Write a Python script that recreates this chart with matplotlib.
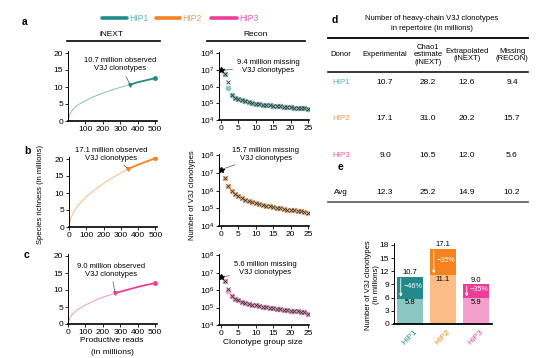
import matplotlib.pyplot as plt
from matplotlib.lines import Line2D
import numpy as np

plt.rcParams['font.family'] = ['Liberation Sans', 'DejaVu Sans']
plt.rcParams['mathtext.fontset'] = 'custom'
plt.rcParams['mathtext.rm'] = 'Liberation Sans'
plt.rcParams['mathtext.it'] = 'Liberation Sans:italic'
plt.rcParams['mathtext.bf'] = 'Liberation Sans:bold'
plt.rcParams['axes.unicode_minus'] = True

# ---- data ----
donors = ['HIP1', 'HIP2', 'HIP3']

# iNEXT rarefaction (up to observed) and extrapolation (to 500 M reads)
rare_x = [[0, 10, 25, 50, 100, 150, 200, 250, 300, 356],
          [0, 10, 25, 50, 100, 150, 200, 250, 300, 343],
          [0, 10, 25, 50, 100, 150, 200, 270]]
rare_y = [[0, 2.0, 3.2, 4.5, 6.0, 7.2, 8.2, 9.1, 9.9, 10.7],
          [0, 2.5, 4.2, 6.2, 8.9, 11.0, 12.8, 14.5, 15.9, 17.1],
          [0, 1.8, 2.9, 4.1, 5.6, 6.8, 7.9, 9.0]]
extra_x = [[356, 400, 450, 500],
           [343, 400, 450, 500],
           [270, 300, 350, 400, 450, 500]]
extra_y = [[10.7, 11.4, 12.0, 12.6],
           [17.1, 18.3, 19.3, 20.2],
           [9.0, 9.5, 10.2, 10.9, 11.5, 12.0]]

# Recon: clonotype group size 1..25, observed (x) and fitted (circles)
group_size = list(range(1, 26))
recon_obs = [
    [5.5e6, 1.8e6, 3.2e5, 2.2e5, 1.75e5, 1.5e5, 1.3e5, 1.15e5, 1.05e5, 9.6e4,
     9.0e4, 8.4e4, 7.9e4, 7.5e4, 7.1e4, 6.8e4, 6.5e4, 6.2e4, 6.0e4, 5.8e4,
     5.6e4, 5.4e4, 5.2e4, 5.0e4, 4.3e4],
    [5.0e6, 1.8e6, 1.0e6, 6.5e5, 4.8e5, 3.8e5, 3.1e5, 2.6e5, 2.25e5, 2.0e5,
     1.8e5, 1.6e5, 1.45e5, 1.3e5, 1.2e5, 1.1e5, 1.0e5, 9.3e4, 8.6e4, 8.0e4,
     7.6e4, 7.2e4, 6.9e4, 6.6e4, 5.5e4],
    [3.2e6, 1.1e6, 4.5e5, 3.2e5, 2.6e5, 2.2e5, 1.9e5, 1.7e5, 1.5e5, 1.35e5,
     1.25e5, 1.15e5, 1.05e5, 9.8e4, 9.2e4, 8.6e4, 8.1e4, 7.6e4, 7.2e4, 6.8e4,
     6.5e4, 6.2e4, 5.9e4, 5.6e4, 4.5e4]]
recon_fit = [
    [5.5e6, 8.0e5, 3.2e5, 2.2e5, 1.75e5, 1.5e5, 1.3e5, 1.15e5, 1.05e5, 9.6e4,
     9.0e4, 8.4e4, 7.9e4, 7.5e4, 7.1e4, 6.8e4, 6.5e4, 6.2e4, 6.0e4, 5.8e4,
     5.6e4, 5.4e4, 5.2e4, 5.0e4, 4.3e4],
    [5.0e6, 1.8e6, 1.0e6, 6.5e5, 4.8e5, 3.8e5, 3.1e5, 2.6e5, 2.25e5, 2.0e5,
     1.8e5, 1.6e5, 1.45e5, 1.3e5, 1.2e5, 1.1e5, 1.0e5, 9.3e4, 8.6e4, 8.0e4,
     7.6e4, 7.2e4, 6.9e4, 6.6e4, 5.5e4],
    [3.2e6, 9.0e5, 4.5e5, 3.2e5, 2.6e5, 2.2e5, 1.9e5, 1.7e5, 1.5e5, 1.35e5,
     1.25e5, 1.15e5, 1.05e5, 9.8e4, 9.2e4, 8.6e4, 8.1e4, 7.6e4, 7.2e4, 6.8e4,
     6.5e4, 6.2e4, 5.9e4, 5.6e4, 4.5e4]]

# table d (millions)
experimental = [10.7, 17.1, 9.0]
chao1 = [28.2, 31.0, 16.5]
extrapolated = [12.6, 20.2, 12.0]
missing = [9.4, 15.7, 5.6]
averages = [12.3, 25.2, 14.9, 10.2]

# bars e
after_recon = [5.8, 11.1, 5.9]
pct_labels = ['\u221246%', '\u221235%', '\u221235%']

dark = ['#24898a', '#f5821f', '#ea3e97']
light = ['#8ac6c2', '#fbbd85', '#f5a0cc']
txtcol = ['#5fb3b3', '#f39a4d', '#ef5aab']

W, H = 554, 358
fig = plt.figure(figsize=(W / 100, H / 100), dpi=100)
FS = 5.5


def px_axes(x0, y0, x1, y1):
    return fig.add_axes([x0 / W, 1 - y1 / H, (x1 - x0) / W, (y1 - y0) / H])


def T(x, y, s, **kw):
    kw.setdefault('ha', 'center')
    kw.setdefault('va', 'center')
    kw.setdefault('fontsize', FS)
    return fig.text(x / W, 1 - y / H, s, **kw)


def hline(x0, x1, y, **kw):
    fig.add_artist(Line2D([x0 / W, x1 / W], [1 - y / H, 1 - y / H],
                          transform=fig.transFigure, **kw))


def style(ax):
    for s in ['top', 'right']:
        ax.spines[s].set_visible(False)
    ax.spines['left'].set_linewidth(0.7)
    ax.spines['bottom'].set_linewidth(1.2)
    ax.tick_params(labelsize=6, length=2, width=0.6, pad=1.5)


# legend
leg_x = [(102, 127), (156, 180), (211, 237)]
for i in range(3):
    hline(leg_x[i][0], leg_x[i][1], 18, color=dark[i], lw=2.6, solid_capstyle='round')
    T(leg_x[i][1] + 2, 18.5, donors[i], ha='left', color=txtcol[i], fontsize=6.2)

# panel letters
T(25, 22, 'a', fontweight='bold', fontsize=7.5)
T(27, 151, 'b', fontweight='bold', fontsize=7.5)
T(27, 255, 'c', fontweight='bold', fontsize=7.5)
T(335, 20, 'd', fontweight='bold', fontsize=7.5)
T(340, 167, 'e', fontweight='bold', fontsize=7.5)

# column headers
T(112, 34, 'iNEXT', fontsize=6)
hline(67, 160, 41, color='k', lw=1.2)
T(256, 34, 'Recon', fontsize=6)
hline(207, 305, 41, color='k', lw=1.2)

inext_boxes = [(68, 51.3, 157, 121), (69, 157.3, 157, 227), (68, 254.3, 157, 324)]
recon_boxes = [(219, 52, 309, 120), (219, 154, 309, 226), (219, 254, 309, 325)]
inext_txt = [(120, 65), (111, 154), (111, 270)]
recon_txt = [(268, 66), (266, 154), (265, 269)]

for i in range(3):
    ax = px_axes(*inext_boxes[i])
    style(ax)
    ax.plot(rare_x[i], rare_y[i], color=dark[i], lw=0.7, alpha=0.55)
    ax.plot(extra_x[i], extra_y[i], color=dark[i], lw=1.3)
    ax.plot(extra_x[i][-1], extra_y[i][-1], 'o', color=dark[i], ms=2.5)
    ax.plot(rare_x[i][-1], rare_y[i][-1], 'v', color=dark[i], ms=2.5)
    ax.set_xlim(0, 510)
    ax.set_ylim(0, 20.5)
    ax.set_yticks([0, 5, 10, 15, 20])
    if i == 0:
        ax.set_xticks([100, 200, 300, 400, 500])
    else:
        ax.set_xticks([0, 100, 200, 300, 400, 500])
    tx, ty = inext_txt[i]
    ax.annotate('%.1f million observed\nV3J clonotypes' % experimental[i],
                xy=(rare_x[i][-1], rare_y[i][-1]),
                xytext=(tx / W, 1 - ty / H), textcoords='figure fraction',
                ha='center', va='center', fontsize=FS, linespacing=1.2,
                arrowprops=dict(arrowstyle='-', lw=0.5, color='#555555',
                                shrinkA=1, shrinkB=1))

    ax = px_axes(*recon_boxes[i])
    style(ax)
    ax.set_yscale('log')
    ax.plot(group_size, recon_fit[i], 'o', ms=3.6, mfc=light[i], mec=light[i], mew=0.5)
    ax.plot(group_size, recon_obs[i], 'x', ms=2.6, color='#3a3a3a', mew=0.6)
    ax.plot(0, missing[i] * 1e6, '*', color='k', ms=4)
    ax.set_xlim(-0.6, 25.3)
    ax.set_ylim(1e4, 1.2e8)
    ax.set_xticks([0, 5, 10, 15, 20, 25])
    ax.set_yticks([1e4, 1e5, 1e6, 1e7, 1e8])
    ax.minorticks_off()
    tx, ty = recon_txt[i]
    ax.annotate('%.1f million missing\nV3J clonotypes' % missing[i],
                xy=(0, missing[i] * 1e6),
                xytext=(tx / W, 1 - ty / H), textcoords='figure fraction',
                ha='center', va='center', fontsize=FS, linespacing=1.2,
                arrowprops=dict(arrowstyle='-', lw=0.5, color='#555555',
                                shrinkA=1, shrinkB=2))

T(40, 195, 'Species richness (in millions)', rotation=90)
T(192, 195, 'Number of V3J clonotypes', rotation=90)
T(112, 341, 'Productive reads', fontsize=6)
T(112, 352, '(in millions)', fontsize=6)
T(263, 342, 'Clonotype group size', fontsize=6)

# ---- table d ----
T(432, 19, 'Number of heavy-chain V3J clonotypes')
T(432, 29, 'in repertoire (in millions)')
hline(328, 528, 38, color='k', lw=1.3)
col_x = [341, 385, 428, 467, 512]
T(col_x[0], 55, 'Donor')
T(col_x[1], 55, 'Experimental')
T(col_x[2], 55, 'Chao1\nestimate\n(iNEXT)', linespacing=1.1)
T(col_x[3], 55, 'Extrapolated\n(iNEXT)', linespacing=1.1)
T(col_x[4], 55, 'Missing\n(RECON)', linespacing=1.1)
hline(328, 528, 72, color='k', lw=1.1)
row_y = [83, 118, 155]
for i in range(3):
    T(col_x[0], row_y[i], donors[i], color=txtcol[i], fontsize=5.8)
    vals = [experimental[i], chao1[i], extrapolated[i], missing[i]]
    for j in range(4):
        T(col_x[j + 1], row_y[i], '%.1f' % vals[j], fontsize=6)
T(col_x[0], 192, 'Avg', fontsize=5.8)
for j in range(4):
    T(col_x[j + 1], 192, '%.1f' % averages[j], fontsize=6)
hline(328, 528, 202, color='#666666', lw=1.3)

# ---- bars e ----
ax = px_axes(394, 242.8, 492, 324)
for s in ['top', 'right']:
    ax.spines[s].set_visible(False)
ax.spines['left'].set_linewidth(0.7)
ax.spines['bottom'].set_linewidth(1.3)
xb = np.arange(3)
bw = 0.79
ax.bar(xb, after_recon, width=bw, color=light)
ax.bar(xb, np.array(experimental) - np.array(after_recon), bottom=after_recon,
       width=bw, color=dark)
for i in range(3):
    ax.text(xb[i], experimental[i] + 0.15, '%.1f' % experimental[i], ha='center',
            va='bottom', fontsize=5.5)
    ax.text(xb[i], after_recon[i] - 0.2, '%.1f' % after_recon[i], ha='center',
            va='top', fontsize=5.5)
    ax.annotate('', xy=(xb[i] - 0.28, after_recon[i] + 0.4),
                xytext=(xb[i] - 0.28, experimental[i] - 0.35),
                arrowprops=dict(arrowstyle='-|>', color='white', lw=0.6,
                                mutation_scale=4, shrinkA=0, shrinkB=0))
    ax.text(xb[i] + 0.1, (experimental[i] + after_recon[i]) / 2 + 0.3, pct_labels[i],
            ha='center', va='center', fontsize=5.2, color='white')
ax.set_xlim(-0.485, 2.485)
ax.set_ylim(0, 18.5)
ax.set_yticks([0, 3, 6, 9, 12, 15, 18])
ax.set_xticks(xb)
ax.set_xticklabels(donors, rotation=45, ha='center', va='top')
for i, lab in enumerate(ax.get_xticklabels()):
    lab.set_color(dark[i])
ax.tick_params(axis='x', length=0, pad=3, labelsize=6)
ax.tick_params(axis='y', labelsize=6, length=2, width=0.6, pad=1.5)
T(368, 285, 'Number of V3J clonotypes', rotation=90)
T(376, 285, '(in millions)', rotation=90)

fig.savefig('out.png', dpi=100)
